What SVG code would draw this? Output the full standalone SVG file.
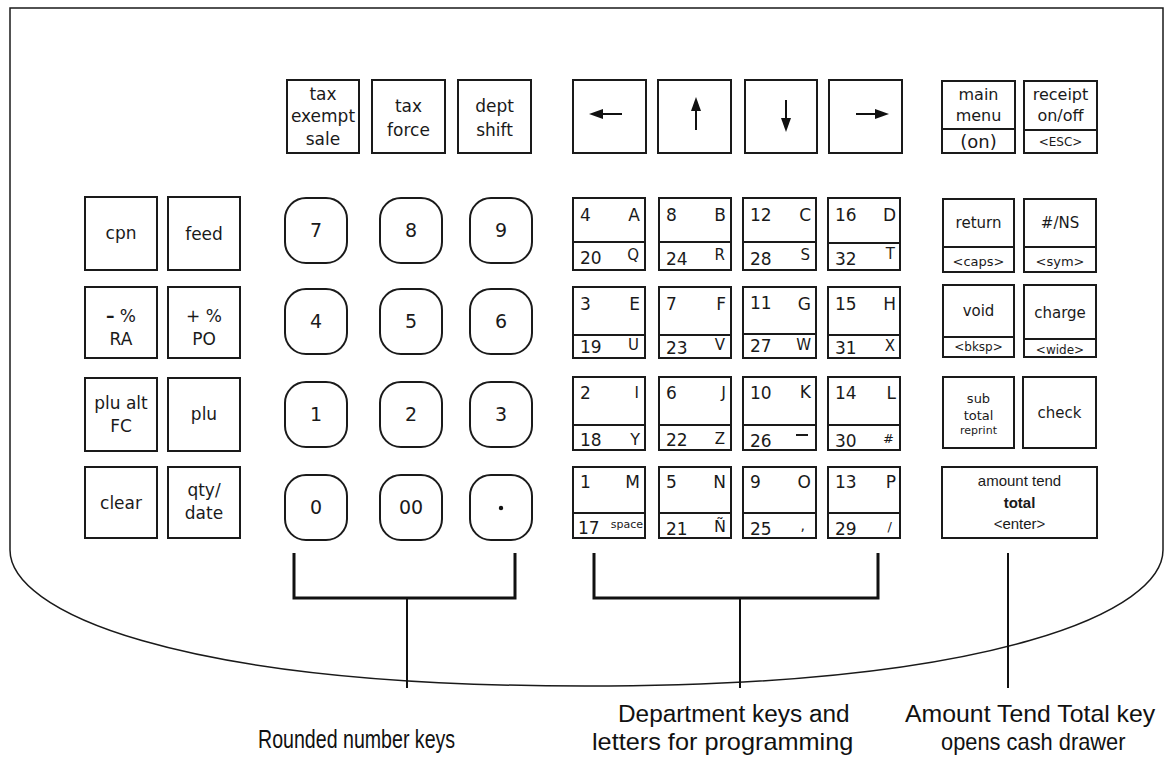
<svg xmlns="http://www.w3.org/2000/svg" width="1173" height="771" viewBox="0 0 1173 771">
<style>
.k{fill:#fff;stroke:#1a1a1a;stroke-width:2}
.d{stroke:#1a1a1a;stroke-width:2;fill:none}
.t{font-family:"DejaVu Sans",Verdana,sans-serif;fill:#1a1a1a;text-anchor:middle}
.n{font-family:"DejaVu Sans",Verdana,sans-serif;fill:#1a1a1a;font-size:17px}
.l{font-family:"DejaVu Sans",Verdana,sans-serif;fill:#1a1a1a;text-anchor:end}
.a{font-family:"Liberation Sans",Arial,sans-serif;fill:#1a1a1a;text-anchor:middle}
.lab{font-family:"Liberation Sans",Arial,sans-serif;fill:#111}
.br{stroke:#111;stroke-width:3;fill:none}
.st{stroke:#111;stroke-width:2;fill:none}
</style>
<g id="frame">
<path d="M10,8 H1163 V550 C1163,610 1000,686 585,686 C170,686 10,610 10,550 Z" fill="#fff" stroke="#1a1a1a" stroke-width="1.5"/>
</g>
<!-- top row -->
<g id="key-tax-exempt-sale"><rect class="k" x="287" y="80" width="72" height="73"/>
<text class="t" font-size="17" x="323" y="100">tax</text><text class="t" font-size="17" x="323" y="122">exempt</text><text class="t" font-size="17" x="323" y="145">sale</text></g>
<g id="key-tax-force"><rect class="k" x="372" y="80" width="73" height="73"/>
<text class="t" font-size="17" x="408.5" y="112">tax</text><text class="t" font-size="17" x="408.5" y="136">force</text></g>
<g id="key-dept-shift"><rect class="k" x="458" y="80" width="73" height="73"/>
<text class="t" font-size="17" x="494.5" y="112">dept</text><text class="t" font-size="17" x="494.5" y="136">shift</text></g>
<g id="key-left"><rect class="k" x="573" y="80" width="73" height="73"/>
<line class="st" x1="622" y1="114" x2="600" y2="114" stroke-width="2.5"/><polygon points="589,114 603,109 603,119" fill="#111"/></g>
<g id="key-up"><rect class="k" x="658" y="80" width="73" height="73"/>
<line class="st" x1="696" y1="130" x2="696" y2="108"/><polygon points="696,97 691,111 701,111" fill="#111"/></g>
<g id="key-down"><rect class="k" x="745" y="80" width="72" height="73"/>
<line class="st" x1="786" y1="100" x2="786" y2="121"/><polygon points="786,132 781,118 791,118" fill="#111"/></g>
<g id="key-right"><rect class="k" x="829" y="80" width="73" height="73"/>
<line class="st" x1="856" y1="114" x2="877" y2="114" stroke-width="2.5"/><polygon points="889,114 875,109 875,119" fill="#111"/></g>
<g id="key-main-menu"><rect class="k" x="942" y="81" width="73" height="72"/><line class="d" x1="942" y1="129" x2="1015" y2="129"/>
<text class="t" font-size="16" x="978.5" y="100">main</text><text class="t" font-size="16" x="978.5" y="121">menu</text><text class="t" font-size="18" x="978.5" y="148">(on)</text></g>
<g id="key-receipt"><rect class="k" x="1024" y="81" width="73" height="72"/><line class="d" x1="1024" y1="130" x2="1097" y2="130"/>
<text class="t" font-size="16" x="1060.5" y="100">receipt</text><text class="t" font-size="16" x="1060.5" y="121">on/off</text><text class="t" font-size="12" x="1060.5" y="146">&lt;ESC&gt;</text></g>
<!-- left keys -->
<g id="key-cpn"><rect class="k" x="85" y="197" width="72" height="73"/><text class="t" font-size="17" x="121" y="239">cpn</text></g>
<g id="key-feed"><rect class="k" x="168" y="197" width="72" height="73"/><text class="t" font-size="17" x="204" y="240">feed</text></g>
<g id="key-minus-ra"><rect class="k" x="85" y="287" width="72" height="71"/><text class="t" font-size="17" x="121" y="322"><tspan font-weight="bold">–</tspan> %</text><text class="t" font-size="17" x="121" y="345">RA</text></g>
<g id="key-plus-po"><rect class="k" x="168" y="287" width="72" height="71"/><text class="t" font-size="17" x="204" y="322">+ %</text><text class="t" font-size="17" x="204" y="345">PO</text></g>
<g id="key-plu-alt"><rect class="k" x="85" y="378" width="72" height="73"/><text class="t" font-size="17" x="121" y="409">plu alt</text><text class="t" font-size="17" x="121" y="432">FC</text></g>
<g id="key-plu"><rect class="k" x="168" y="378" width="72" height="73"/><text class="t" font-size="17" x="204" y="420">plu</text></g>
<g id="key-clear"><rect class="k" x="85" y="467" width="72" height="71"/><text class="t" font-size="17" x="121" y="509">clear</text></g>
<g id="key-qty-date"><rect class="k" x="168" y="467" width="72" height="71"/><text class="t" font-size="17" x="204" y="496">qty/</text><text class="t" font-size="17" x="204" y="519">date</text></g>
<!-- number keys -->
<g id="key-7"><rect class="k" x="285" y="198" width="62" height="65" rx="21"/><text class="t" font-size="19" x="316" y="237">7</text></g>
<g id="key-8"><rect class="k" x="380" y="198" width="62" height="65" rx="21"/><text class="t" font-size="19" x="411" y="237">8</text></g>
<g id="key-9"><rect class="k" x="470" y="198" width="62" height="65" rx="21"/><text class="t" font-size="19" x="501" y="237">9</text></g>
<g id="key-4"><rect class="k" x="285" y="289" width="62" height="65" rx="21"/><text class="t" font-size="19" x="316" y="328">4</text></g>
<g id="key-5"><rect class="k" x="380" y="289" width="62" height="65" rx="21"/><text class="t" font-size="19" x="411" y="328">5</text></g>
<g id="key-6"><rect class="k" x="470" y="289" width="62" height="65" rx="21"/><text class="t" font-size="19" x="501" y="328">6</text></g>
<g id="key-1"><rect class="k" x="285" y="382" width="62" height="65" rx="21"/><text class="t" font-size="19" x="316" y="421">1</text></g>
<g id="key-2"><rect class="k" x="380" y="382" width="62" height="65" rx="21"/><text class="t" font-size="19" x="411" y="421">2</text></g>
<g id="key-3"><rect class="k" x="470" y="382" width="62" height="65" rx="21"/><text class="t" font-size="19" x="501" y="421">3</text></g>
<g id="key-0"><rect class="k" x="285" y="475" width="62" height="65" rx="21"/><text class="t" font-size="19" x="316" y="514">0</text></g>
<g id="key-00"><rect class="k" x="380" y="475" width="62" height="65" rx="21"/><text class="t" font-size="19" x="411" y="514">00</text></g>
<g id="key-dot"><rect class="k" x="470" y="475" width="62" height="65" rx="21"/><circle cx="501" cy="508" r="2.2" fill="#111"/></g>
<!-- department keys row 1 -->
<g id="dept-4"><rect class="k" x="573" y="198" width="72" height="72"/><line class="d" x1="573" y1="242" x2="645" y2="242"/><text class="n" x="580" y="221">4</text><text class="l" x="640" y="221" font-size="17">A</text><text class="n" x="580" y="264">20</text><text class="l" x="639" y="260" font-size="15">Q</text></g>
<g id="dept-8"><rect class="k" x="659" y="198" width="72" height="72"/><line class="d" x1="659" y1="242" x2="731" y2="242"/><text class="n" x="666" y="221">8</text><text class="l" x="726" y="221" font-size="17">B</text><text class="n" x="666" y="265">24</text><text class="l" x="725" y="260" font-size="15">R</text></g>
<g id="dept-12"><rect class="k" x="743" y="198" width="73" height="72"/><line class="d" x1="743" y1="242" x2="816" y2="242"/><text class="n" x="750" y="221">12</text><text class="l" x="811" y="221" font-size="17">C</text><text class="n" x="750" y="265">28</text><text class="l" x="810" y="260" font-size="15">S</text></g>
<g id="dept-16"><rect class="k" x="828" y="198" width="72" height="72"/><line class="d" x1="828" y1="243" x2="900" y2="243"/><text class="n" x="835" y="221">16</text><text class="l" x="896" y="221" font-size="17">D</text><text class="n" x="835" y="265">32</text><text class="l" x="895" y="259" font-size="15">T</text></g>
<!-- row 2 -->
<g id="dept-3"><rect class="k" x="573" y="287" width="72" height="71"/><line class="d" x1="573" y1="335" x2="645" y2="335"/><text class="n" x="580" y="310">3</text><text class="l" x="640" y="310" font-size="17">E</text><text class="n" x="580" y="353">19</text><text class="l" x="639" y="350" font-size="15">U</text></g>
<g id="dept-7"><rect class="k" x="659" y="287" width="72" height="71"/><line class="d" x1="659" y1="335" x2="731" y2="335"/><text class="n" x="666" y="310">7</text><text class="l" x="726" y="310" font-size="17">F</text><text class="n" x="666" y="354">23</text><text class="l" x="725" y="350" font-size="15">V</text></g>
<g id="dept-11"><rect class="k" x="743" y="287" width="73" height="71"/><line class="d" x1="743" y1="334" x2="816" y2="334"/><text class="n" x="750" y="309">11</text><text class="l" x="811" y="310" font-size="17">G</text><text class="n" x="750" y="352">27</text><text class="l" x="811" y="350" font-size="15">W</text></g>
<g id="dept-15"><rect class="k" x="828" y="287" width="72" height="71"/><line class="d" x1="828" y1="335" x2="900" y2="335"/><text class="n" x="835" y="310">15</text><text class="l" x="896" y="310" font-size="17">H</text><text class="n" x="835" y="354">31</text><text class="l" x="895" y="351" font-size="15">X</text></g>
<!-- row 3 -->
<g id="dept-2"><rect class="k" x="573" y="377" width="72" height="73"/><line class="d" x1="573" y1="425" x2="645" y2="425"/><text class="n" x="580" y="399">2</text><text class="l" x="639" y="398" font-size="15" font-family="DejaVu Serif, serif">I</text><text class="n" x="580" y="446">18</text><text class="l" x="640" y="445" font-size="16">Y</text></g>
<g id="dept-6"><rect class="k" x="659" y="377" width="72" height="73"/><line class="d" x1="659" y1="425" x2="731" y2="425"/><text class="n" x="666" y="399">6</text><text class="l" x="726" y="398" font-size="16">J</text><text class="n" x="666" y="446">22</text><text class="l" x="725" y="444" font-size="15">Z</text></g>
<g id="dept-10"><rect class="k" x="743" y="377" width="73" height="73"/><line class="d" x1="743" y1="425" x2="816" y2="425"/><text class="n" x="750" y="399">10</text><text class="l" x="811" y="398" font-size="17">K</text><text class="n" x="750" y="447">26</text><line class="d" x1="796" y1="435" x2="808" y2="435" stroke-width="1.3"/></g>
<g id="dept-14"><rect class="k" x="828" y="377" width="72" height="73"/><line class="d" x1="828" y1="425" x2="900" y2="425"/><text class="n" x="835" y="399">14</text><text class="l" x="896" y="399" font-size="17">L</text><text class="n" x="835" y="447">30</text><text class="l" x="894" y="443" font-size="13">#</text></g>
<!-- row 4 -->
<g id="dept-1"><rect class="k" x="573" y="467" width="72" height="71"/><line class="d" x1="573" y1="513" x2="645" y2="513"/><text class="n" x="580" y="488">1</text><text class="l" x="640" y="488" font-size="17">M</text><text class="n" x="578" y="534">17</text><text class="l" x="643" y="528" font-size="11">space</text></g>
<g id="dept-5"><rect class="k" x="659" y="467" width="72" height="71"/><line class="d" x1="659" y1="513" x2="731" y2="513"/><text class="n" x="666" y="488">5</text><text class="l" x="726" y="488" font-size="17">N</text><text class="n" x="666" y="535">21</text><text class="l" x="726" y="532" font-size="16">Ñ</text></g>
<g id="dept-9"><rect class="k" x="743" y="467" width="73" height="71"/><line class="d" x1="743" y1="513" x2="816" y2="513"/><text class="n" x="750" y="488">9</text><text class="l" x="811" y="488" font-size="17">O</text><text class="n" x="750" y="535">25</text><text class="l" x="805" y="530" font-size="14">,</text></g>
<g id="dept-13"><rect class="k" x="828" y="467" width="72" height="71"/><line class="d" x1="828" y1="513" x2="900" y2="513"/><text class="n" x="835" y="488">13</text><text class="l" x="896" y="488" font-size="17">P</text><text class="n" x="835" y="535">29</text><text class="l" x="892" y="531" font-size="13">/</text></g>
<!-- right keys -->
<g id="key-return"><rect class="k" x="943" y="199" width="71" height="73"/><line class="d" x1="943" y1="247" x2="1014" y2="247"/><text class="t" font-size="15" x="978.5" y="228">return</text><text class="t" font-size="13" x="978.5" y="266">&lt;caps&gt;</text></g>
<g id="key-ns"><rect class="k" x="1024" y="199" width="72" height="73"/><line class="d" x1="1024" y1="247" x2="1096" y2="247"/><text class="t" font-size="15" x="1060" y="228">#/NS</text><text class="t" font-size="13" x="1060" y="266">&lt;sym&gt;</text></g>
<g id="key-void"><rect class="k" x="943" y="285" width="71" height="72"/><line class="d" x1="943" y1="337" x2="1014" y2="337"/><text class="t" font-size="15" x="978.5" y="316">void</text><text class="t" font-size="12" x="978.5" y="351">&lt;bksp&gt;</text></g>
<g id="key-charge"><rect class="k" x="1024" y="285" width="72" height="72"/><line class="d" x1="1024" y1="339" x2="1096" y2="339"/><text class="t" font-size="15" x="1060" y="318">charge</text><text class="t" font-size="12" x="1060" y="354">&lt;wide&gt;</text></g>
<g id="key-subtotal"><rect class="k" x="943" y="377" width="71" height="71"/><text class="t" font-size="13" x="978.5" y="403">sub</text><text class="t" font-size="13" x="978.5" y="420">total</text><text class="t" font-size="11" x="978.5" y="434">reprint</text></g>
<g id="key-check"><rect class="k" x="1023" y="377" width="73" height="71"/><text class="t" font-size="15" x="1059.5" y="418">check</text></g>
<g id="key-amount-tend"><rect class="k" x="942" y="467" width="155" height="71" stroke-width="3.5"/><text class="a" font-size="15" x="1019.5" y="486">amount tend</text><text class="a" font-size="15" font-weight="bold" x="1019.5" y="508">total</text><text class="a" font-size="15" x="1019.5" y="529">&lt;enter&gt;</text></g>
<!-- connectors -->
<g id="connectors">
<path class="br" d="M294,553 V598 H515 V553"/>
<line class="st" x1="407" y1="598" x2="407" y2="688"/>
<path class="br" d="M594,553 V598 H878 V553"/>
<line class="st" x1="740" y1="598" x2="740" y2="688"/>
<line class="st" x1="1008" y1="553" x2="1008" y2="688"/>
</g>
<g id="labels">
<text class="lab" font-size="26" transform="translate(258,748) scale(0.754,1)">Rounded number keys</text>
<text class="lab" font-size="23" transform="translate(618,722) scale(1.06,1)">Department keys and</text>
<text class="lab" font-size="23" transform="translate(592,750) scale(1.1,1)">letters for programming</text>
<text class="lab" font-size="23" transform="translate(905,722) scale(1.08,1)">Amount Tend Total key</text>
<text class="lab" font-size="23" transform="translate(941,750) scale(0.95,1)">opens cash drawer</text>
</g>
</svg>
